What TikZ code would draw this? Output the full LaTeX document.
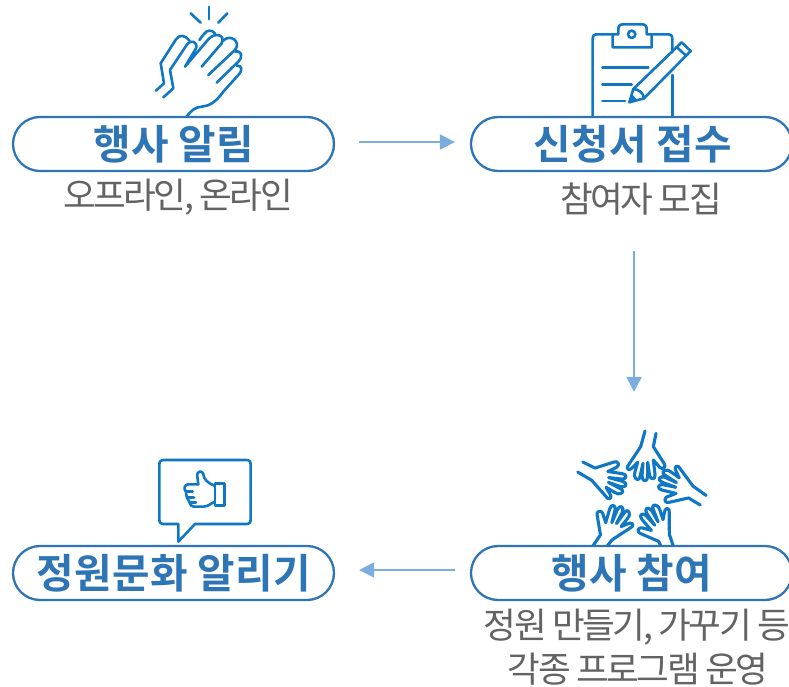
\documentclass[tikz,border=0pt]{standalone}
\usepackage{fontspec}
\setmainfont{Noto Sans CJK KR}
\newfontfamily\titlefont[LetterSpace=1]{Noto Sans CJK KR Bold}
\newfontfamily\bodyfont[LetterSpace=-7]{Noto Sans CJK KR}
\usetikzlibrary{arrows.meta}
\definecolor{pillc}{HTML}{2E75B6}
\definecolor{iconc}{HTML}{0F77C4}
\definecolor{flowc}{HTML}{7BAEDF}
\definecolor{bodyc}{HTML}{636363}
\tikzset{
 pill/.style={draw=pillc,line width=2.3pt,fill=white,rounded corners=27pt,minimum width=321pt,minimum height=54pt,inner sep=0pt,
   text=pillc,font=\titlefont\fontsize{40.8}{44}\selectfont},
 sub/.style={text=bodyc,font=\bodyfont\fontsize{35.6}{42}\selectfont,inner sep=0pt,align=center},
 flow/.style={draw=flowc,line width=2.2pt,-{Triangle[length=15pt,width=15pt]}},
 icon/.style={draw=iconc,line width=2.6pt,line cap=round,line join=round},
 zoomed/.style={x=0.33333pt,y=-0.33333pt}
}
\newcommand{\handshape}{%
 (0,-172) -- (-13,-125) -- (-53,-65) .. controls (-55,-55) and (-45,-52) .. (-35,-65) -- (-22,-78)
 -- (-30,-50) -- (-32,-38) .. controls (-28,-22) and (-15,-22) .. (-14,-40) -- (-6,-75)
 -- (-9,-36) .. controls (-8,-18) and (8,-18) .. (8,-36) -- (8,-78)
 -- (14,-38) .. controls (17,-25) and (32,-25) .. (30,-42) -- (25,-85)
 -- (45,-62) .. controls (55,-55) and (65,-65) .. (57,-75) -- (25,-125) -- (33,-165)}
\begin{document}
\begin{tikzpicture}[x=1pt,y=-1pt]
\useasboundingbox (0,0) rectangle (789,687);
\clip (0,0) rectangle (789,687);
% clapping hands
\begin{scope}[shift={(140pt,0pt)},zoomed,icon]
 \draw (152,40) -- (182,68);
 \draw (207,20) -- (207,58);
 \draw (262,40) -- (235,68);
 \draw (48,272) -- (72,250) -- (62,190) -- (108,118) .. controls (120,102) and (135,105) .. (148,122);
 \draw (70,292) -- (100,265) -- (90,210) -- (142,132) .. controls (152,118) and (175,125) .. (168,145) -- (135,200) -- (205,118) .. controls (225,95) and (258,105) .. (245,130) -- (185,200);
 \draw (178,120) -- (192,102) .. controls (200,90) and (215,88) .. (225,100);
 \draw (250,122) .. controls (270,100) and (305,125) .. (285,150) -- (205,225);
 \draw (285,155) .. controls (305,150) and (310,170) .. (295,185) -- (230,248);
 \draw (290,197) .. controls (305,195) and (310,210) .. (295,225) -- (250,275) .. controls (225,310) and (205,318) .. (185,320) .. controls (165,322) and (155,330) .. (140,350);
\end{scope}
% clipboard
\begin{scope}[shift={(570pt,-15pt)},zoomed,icon]
 \draw (68,305) -- (68,72) .. controls (68,62) and (72,58) .. (82,58) -- (128,58);
 \draw (128,97) -- (128,58) -- (145,58) -- (145,42) .. controls (145,32) and (150,28) .. (160,28) -- (215,28) .. controls (225,28) and (230,32) .. (230,42) -- (230,58) -- (245,58) -- (245,97) -- cycle;
 \draw (185,58) circle[radius=11];
 \draw (245,58) -- (293,58) .. controls (303,58) and (307,62) .. (307,72) -- (307,112);
 \draw (307,180) -- (307,305);
 \draw (97,158) -- (235,158);
 \draw (97,208) -- (185,208);
 \draw (97,258) -- (165,258);
 \draw (178,262) -- (190,222) -- (335,82) -- (362,108) -- (222,250) -- cycle;
 \draw (320,96) -- (348,122);
 \draw (190,222) .. controls (205,222) and (222,235) .. (222,250);
 \fill[iconc] (178,262) -- (186,238) -- (202,255) -- cycle;
\end{scope}
% five hands: palm centre (zoom coordinates) and rotation
\begin{scope}[shift={(570pt,-425pt)},zoomed,icon,line width=3.1pt]
 \foreach \px/\py/\a in {225/110/0, 322/180/-110, 112/165/75, 132/298/157, 262/298/-146}{
  \draw[shift={(\px,\py)},rotate=\a,shift={(0,80)}] \handshape;
 }
\end{scope}
% thumbs up bubble
\begin{scope}[shift={(150pt,-450pt)},zoomed,icon]
 \draw (85,222) -- (42,222) .. controls (32,222) and (28,218) .. (28,208) -- (28,44) .. controls (28,34) and (32,30) .. (42,30) -- (288,30) .. controls (298,30) and (302,34) .. (302,44) -- (302,208) .. controls (302,218) and (298,222) .. (288,222) -- (135,222) -- (85,275) -- cycle;
 \draw (223,100) -- (195,100) -- (195,167) -- (223,167) -- cycle;
 \draw (195,108) .. controls (175,100) and (160,88) .. (160,72) .. controls (155,58) and (138,65) .. (142,80) -- (145,103) -- (115,103) .. controls (103,103) and (100,118) .. (108,125) .. controls (108,138) and (112,148) .. (118,155) .. controls (120,165) and (125,170) .. (135,170) -- (160,170) .. controls (175,170) and (185,158) .. (195,155);
 \draw (108,125) -- (128,125);
 \draw (113,143) -- (132,143);
 \draw (120,157) -- (138,157);
\end{scope}
% pills
\node[pill] (p1) at (173.5,144) {행사 알림};
\node[pill] (p2) at (631.5,144) {\hspace*{2pt}신청서 접수};
\node[pill] (p3) at (173.5,573) {정원문화 알리기};
\node[pill] (p4) at (631.5,573) {행사 참여};
% texts
\node[sub] (s1) at (178,197) {오프라인, 온라인};
\node[sub] (s2) at (641,199) {참여자 모집};
\node[sub] (s4a) at (637,627) {정원 만들기, 가꾸기 등};
\node[sub] (s4b) at (638,669.5) {각종 프로그램 운영};
% connectors
\draw[flow,shorten <=24pt,shorten >=15pt] ([yshift=2pt]p1.east) -- ([yshift=2pt]p2.west);
\draw[flow,shorten <=79pt,shorten >=153pt] ([xshift=2.5pt]p2.south) -- ([xshift=2.5pt]p4.north);
\draw[flow,shorten <=15pt,shorten >=24pt] ([yshift=3pt]p4.west) -- ([yshift=3pt]p3.east);
\end{tikzpicture}
\end{document}
